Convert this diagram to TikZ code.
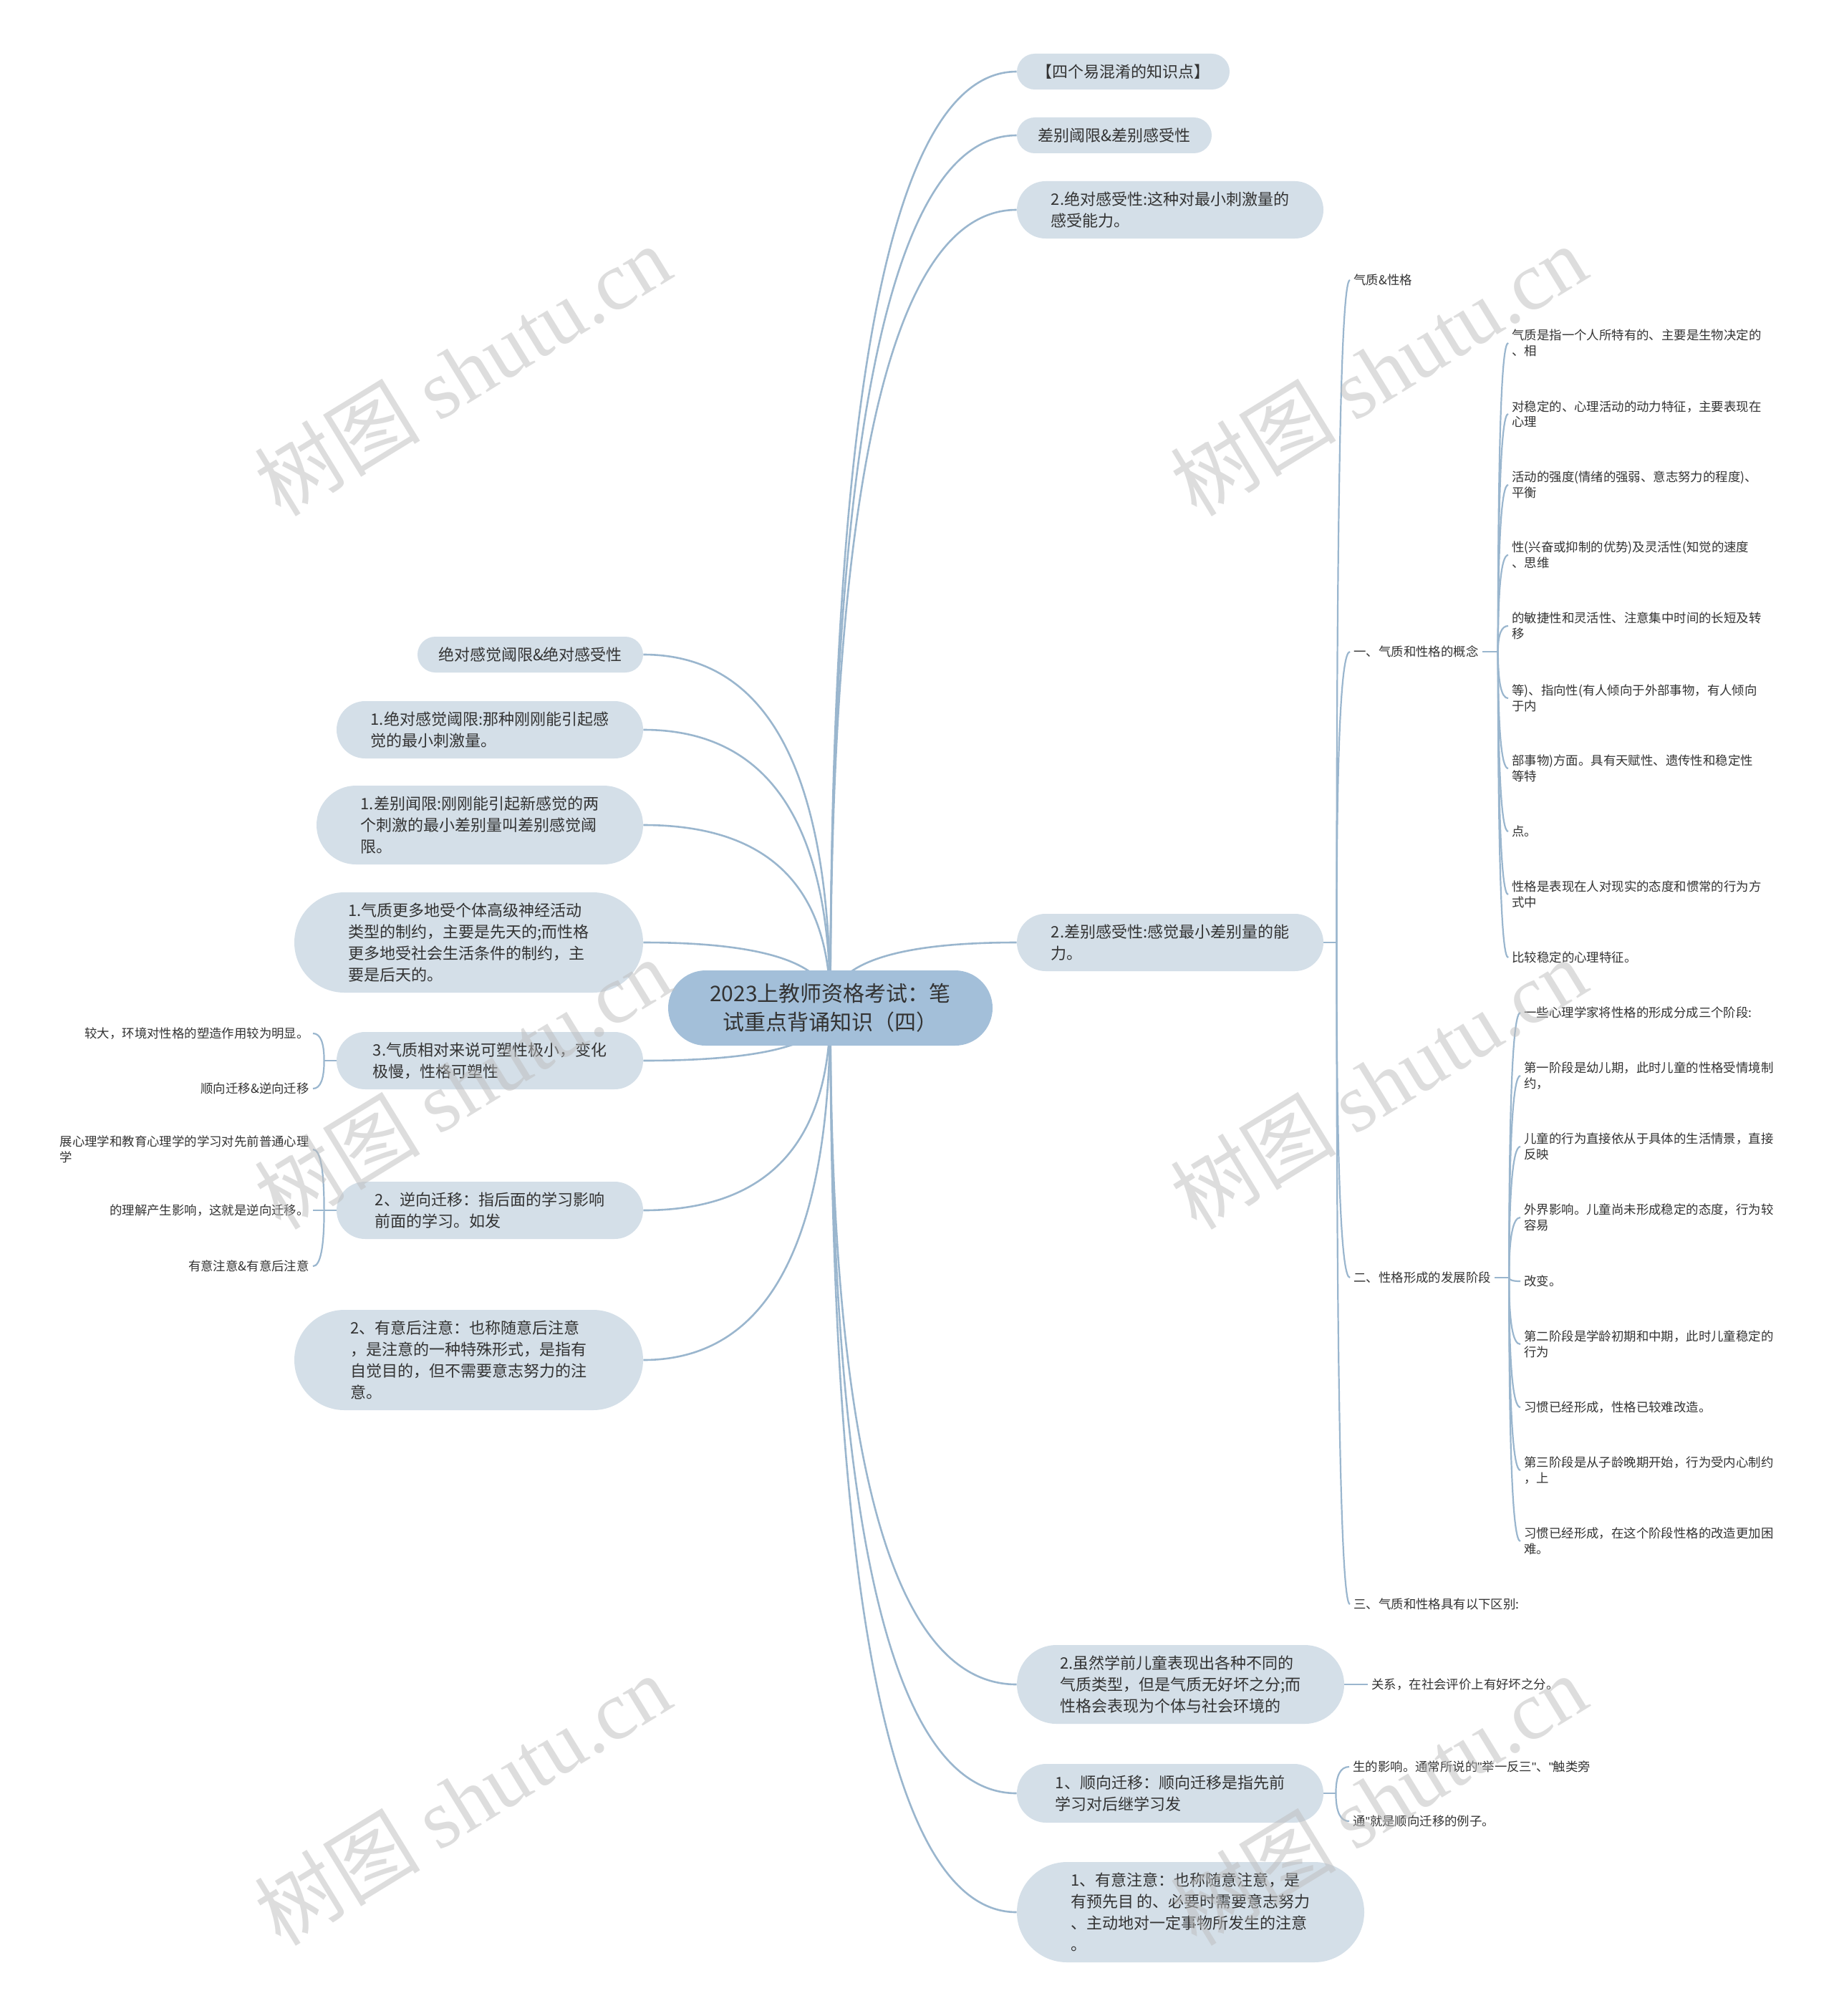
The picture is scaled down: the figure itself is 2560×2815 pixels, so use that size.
\documentclass[tikz,border=0pt]{standalone}
\usepackage{fontspec}
\setmainfont{Noto Sans CJK SC}
\newfontfamily\wmserif{Liberation Serif}
\newfontfamily\latinsans{Liberation Sans}
\newcommand{\sq}{{\latinsans\char"22}}
\usetikzlibrary{calc,backgrounds}
\definecolor{rootfill}{HTML}{A3BFD9}
\definecolor{boxfill}{HTML}{D4DFE8}
\definecolor{linec}{HTML}{9AB6CE}
\definecolor{txt}{HTML}{333333}
\definecolor{wmc}{HTML}{BDBDBD}
\begin{document}
\begin{tikzpicture}[x=0.5pt,y=-0.5pt,
  conn/.style={draw=linec, line width=1.3pt},
  sconn/.style={draw=linec, line width=1.1pt},
  qc/.style={to path={.. controls ($(\tikztostart)!0.6667!(\tikztostart|-\tikztotarget)$) and ($(\tikztotarget)!0.6667!(\tikztostart|-\tikztotarget)$) .. (\tikztotarget)}},
  rootbox/.style={fill=rootfill, text=txt, inner sep=0pt, align=center, font=\fontsize{15}{20}\selectfont},
  lvbox/.style n args={3}{fill=boxfill, text=txt, inner sep=0pt, align=left, font=\fontsize{11}{15}\selectfont, minimum width=#1, minimum height=#2, rounded corners=#3},
  leaf/.style={text=txt, inner xsep=2.5pt, inner ysep=1pt, align=left, font=\fontsize{8.7}{10.75}\selectfont},
  wm/.style={text=wmc, opacity=0.5, rotate=31.5, inner sep=0pt, font=\fontsize{58}{60}\selectfont}
]
\useasboundingbox (0,0) rectangle (2560,2815);

% root
\node[rootbox, minimum width=226.5pt, minimum height=52.5pt, rounded corners=26.25pt] (root) at (1159.5,1407.5) {2023上教师资格考试：笔\\试重点背诵知识（四）};

% right level 1
\node[lvbox={148.5pt}{25pt}{12.5pt}] (n1) at (1568.5,100) {【四个易混淆的知识点】};
\node[lvbox={136pt}{25pt}{12.5pt}] (n2) at (1556,189) {差别阈限\&差别感受性};
\node[lvbox={214pt}{40pt}{20pt}] (n3) at (1634,293) {2.绝对感受性:这种对最小刺激量的\\感受能力。};
\node[lvbox={214pt}{40pt}{20pt}] (n4) at (1634,1316) {2.差别感受性:感觉最小差别量的能\\力。};
\node[lvbox={228.5pt}{55pt}{27.5pt}] (n5) at (1648.5,2352) {2.虽然学前儿童表现出各种不同的\\气质类型，但是气质无好坏之分;而\\性格会表现为个体与社会环境的};
\node[lvbox={214pt}{41pt}{20.5pt}] (n6) at (1634,2504) {1、顺向迁移：顺向迁移是指先前\\学习对后继学习发};
\node[lvbox={242.5pt}{70pt}{35pt}] (n7) at (1662.5,2670) {1、有意注意：也称随意注意，是\\有预先目 的、必要时需要意志努力\\、主动地对一定事物所发生的注意\\。};

% left level 1
\node[lvbox={157.5pt}{25pt}{12.5pt}] (L1) at (740.5,914) {绝对感觉阈限\&绝对感受性};
\node[lvbox={214pt}{40pt}{20pt}] (L2) at (684,1019) {1.绝对感觉阈限:那种刚刚能引起感\\觉的最小刺激量。};
\node[lvbox={228pt}{55pt}{27.5pt}] (L3) at (670,1152) {1.差别闻限:刚刚能引起新感觉的两\\个刺激的最小差别量叫差别感觉阈\\限。};
\node[lvbox={243.5pt}{70pt}{35pt}] (L4) at (654.5,1316) {1.气质更多地受个体高级神经活动\\类型的制约，主要是先天的;而性格\\更多地受社会生活条件的制约，主\\要是后天的。};
\node[lvbox={214pt}{40pt}{20pt}] (L5) at (684,1481) {3.气质相对来说可塑性极小，变化\\极慢，性格可塑性};
\node[lvbox={214pt}{40pt}{20pt}] (L6) at (684,1690) {2、逆向迁移：指后面的学习影响\\前面的学习。如发};
\node[lvbox={243.5pt}{70pt}{35pt}] (L7) at (654.5,1899) {2、有意后注意：也称随意后注意\\，是注意的一种特殊形式，是指有\\自觉目的，但不需要意志努力的注\\意。};

% far right level 2
\node[leaf, anchor=west] (a1) at (1885,391) {气质\&性格};
\node[leaf, anchor=west] (a2) at (1885,910) {一、气质和性格的概念};
\node[leaf, anchor=west] (a3) at (1885,1784) {二、性格形成的发展阶段};
\node[leaf, anchor=west] (a4) at (1885,2240) {三、气质和性格具有以下区别:};

% level 3 under a2
\node[leaf, anchor=west] (b1) at (2106,479) {气质是指一个人所特有的、主要是生物决定的\\、相};
\node[leaf, anchor=west] (b2) at (2106,578) {对稳定的、心理活动的动力特征，主要表现在\\心理};
\node[leaf, anchor=west] (b3) at (2106,677) {活动的强度(情绪的强弱、意志努力的程度)、\\平衡};
\node[leaf, anchor=west] (b4) at (2106,775) {性(兴奋或抑制的优势)及灵活性(知觉的速度\\、思维};
\node[leaf, anchor=west] (b5) at (2106,874) {的敏捷性和灵活性、注意集中时间的长短及转\\移};
\node[leaf, anchor=west] (b6) at (2106,975) {等)、指向性(有人倾向于外部事物，有人倾向\\于内};
\node[leaf, anchor=west] (b7) at (2106,1073) {部事物)方面。具有天赋性、遗传性和稳定性\\等特};
\node[leaf, anchor=west] (b8) at (2106,1161) {点。};
\node[leaf, anchor=west] (b9) at (2106,1249) {性格是表现在人对现实的态度和惯常的行为方\\式中};
\node[leaf, anchor=west] (b10) at (2106,1337) {比较稳定的心理特征。};

% level 3 under a3
\node[leaf, anchor=west] (c1) at (2123,1414) {一些心理学家将性格的形成分成三个阶段:};
\node[leaf, anchor=west] (c2) at (2123,1502) {第一阶段是幼儿期，此时儿童的性格受情境制\\约，};
\node[leaf, anchor=west] (c3) at (2123,1601) {儿童的行为直接依从于具体的生活情景，直接\\反映};
\node[leaf, anchor=west] (c4) at (2123,1700) {外界影响。儿童尚未形成稳定的态度，行为较\\容易};
\node[leaf, anchor=west] (c5) at (2123,1789) {改变。};
\node[leaf, anchor=west] (c6) at (2123,1877) {第二阶段是学龄初期和中期，此时儿童稳定的\\行为};
\node[leaf, anchor=west] (c7) at (2123,1965) {习惯已经形成，性格已较难改造。};
\node[leaf, anchor=west] (c8) at (2123,2053) {第三阶段是从子龄晚期开始，行为受内心制约\\，上};
\node[leaf, anchor=west] (c9) at (2123,2152) {习惯已经形成，在这个阶段性格的改造更加困\\难。};

% children of n5, n6
\node[leaf, anchor=west] (d1) at (1910,2352) {关系，在社会评价上有好坏之分。};
\node[leaf, anchor=west] (e1) at (1884,2467) {生的影响。通常所说的\sq 举一反三\sq 、\sq 触类旁};
\node[leaf, anchor=west] (e2) at (1884,2543) {通\sq 就是顺向迁移的例子。};

% children of L5, L6
\node[leaf, anchor=east] (f1) at (437,1443) {较大，环境对性格的塑造作用较为明显。};
\node[leaf, anchor=east] (f2) at (437,1520) {顺向迁移\&逆向迁移};
\node[leaf, anchor=east] (g1) at (437,1605) {展心理学和教育心理学的学习对先前普通心理\\学};
\node[leaf, anchor=east] (g2) at (437,1690) {的理解产生影响，这就是逆向迁移。};
\node[leaf, anchor=east] (g3) at (437,1768) {有意注意\&有意后注意};

% junctions
\coordinate (J4) at ([xshift=9pt]n4.east);
\coordinate (Ja2) at ([xshift=11pt]a2.east);
\coordinate (Ja3) at ([xshift=10pt]a3.east);
\coordinate (Jn6) at ([xshift=8.5pt]n6.east);
\coordinate (JL5) at ([xshift=-8.5pt]L5.west);
\coordinate (JL6) at ([xshift=-8.5pt]L6.west);

\begin{pgfonlayer}{background}
\fill[white] (0,0) rectangle (2560,2815);
% root connectors
\foreach \t in {n1,n2,n3,n4,n5,n6,n7}
  \draw[conn] (root.center) to[qc] (\t.west);
\foreach \t in {L1,L2,L3,L4,L5,L6,L7}
  \draw[conn] (root.center) to[qc] (\t.east);
% n4 subtree
\draw[sconn] (n4.east) -- (J4);
\foreach \t in {a1,a2,a3,a4}
  \draw[sconn] (J4) to[qc] (\t.west);
\draw[sconn] (a2.east) -- (Ja2);
\foreach \t in {b1,b2,b3,b4,b5,b6,b7,b8,b9,b10}
  \draw[sconn] (Ja2) to[qc] (\t.west);
\draw[sconn] (a3.east) -- (Ja3);
\foreach \t in {c1,c2,c3,c4,c5,c6,c7,c8,c9}
  \draw[sconn] (Ja3) to[qc] (\t.west);
% n5, n6
\draw[sconn] (n5.east) -- (d1.west);
\draw[sconn] (n6.east) -- (Jn6);
\foreach \t in {e1,e2}
  \draw[sconn] (Jn6) to[qc] (\t.west);
% L5, L6
\draw[sconn] (L5.west) -- (JL5);
\foreach \t in {f1,f2}
  \draw[sconn] (JL5) to[qc] (\t.east);
\draw[sconn] (L6.west) -- (JL6);
\foreach \t in {g1,g2,g3}
  \draw[sconn] (JL6) to[qc] (\t.east);
\end{pgfonlayer}

% watermarks
\node[wm] (wm1) at (646,517) {树图 {\wmserif shutu.cn}};
\node[wm] (wm2) at (1925,517) {树图 {\wmserif shutu.cn}};
\node[wm] (wm3) at (646,1513) {树图 {\wmserif shutu.cn}};
\node[wm] (wm4) at (1925,1513) {树图 {\wmserif shutu.cn}};
\node[wm] (wm5) at (646,2513) {树图 {\wmserif shutu.cn}};
\node[wm] (wm6) at (1925,2513) {树图 {\wmserif shutu.cn}};
\end{tikzpicture}
\end{document}
